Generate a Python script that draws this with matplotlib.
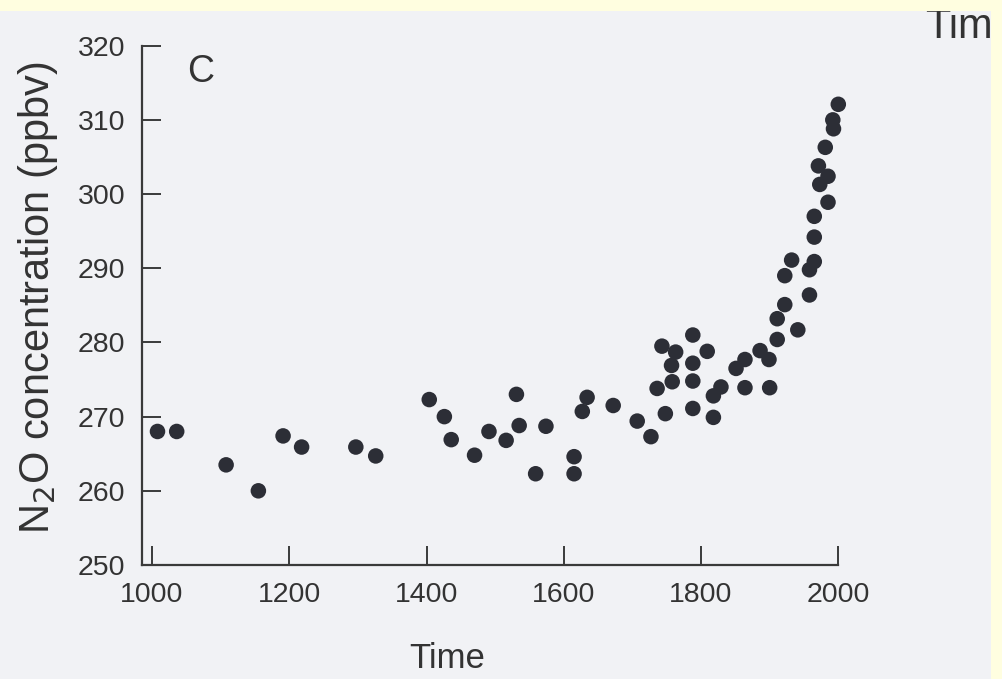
import numpy as np
import matplotlib.pyplot as plt
from matplotlib.patches import Rectangle

plt.rcParams['font.family'] = ['Liberation Sans', 'DejaVu Sans']

# N2O concentration record (ppbv)
year = [1008, 1036, 1108, 1155, 1191, 1218, 1297, 1326, 1404, 1426,
        1436, 1470, 1491, 1516, 1531, 1535, 1559, 1574, 1615, 1615,
        1627, 1634, 1672, 1707, 1727, 1736, 1748, 1743, 1763, 1757,
        1758, 1788, 1788, 1788, 1788, 1809, 1818, 1829, 1818, 1851,
        1864, 1864, 1886, 1899, 1900, 1911, 1911, 1922, 1922, 1932,
        1941, 1958, 1958, 1965, 1965, 1965, 1985, 1973, 1985, 1971,
        1981, 1993, 1992, 2000]
n2o = [268.0, 268.0, 263.5, 260.0, 267.4, 265.9, 265.9, 264.7, 272.3, 270.0,
       266.9, 264.8, 268.0, 266.8, 273.0, 268.8, 262.3, 268.7, 264.6, 262.3,
       270.7, 272.6, 271.5, 269.4, 267.3, 273.8, 270.4, 279.5, 278.7, 276.9,
       274.7, 281.0, 277.2, 274.8, 271.1, 278.8, 272.8, 274.0, 269.9, 276.5,
       277.7, 273.9, 278.9, 277.7, 273.9, 280.4, 283.2, 285.1, 289.0, 291.1,
       281.7, 286.4, 289.8, 290.9, 294.2, 297.0, 298.9, 301.3, 302.4, 303.8,
       306.3, 308.8, 310.0, 312.1]

xticks = [1000, 1200, 1400, 1600, 1800, 2000]
yticks = [250, 260, 270, 280, 290, 300, 310, 320]

ink = '#2c2e36'
W, H = 1003, 679

fig = plt.figure(figsize=(10.03, 6.79), dpi=100, facecolor='#fffee0')
# scanned paper area
fig.patches.append(Rectangle((0, 0), 991 / W, 1 - 11 / H, transform=fig.transFigure,
                             facecolor='#f1f2f5', edgecolor='none', zorder=-5))

ax = fig.add_axes([141.7 / W, 1 - 565 / H, (838.3 - 141.7) / W, (565 - 45.7) / H])
ax.set_zorder(2)
ax.patch.set_visible(False)
ax.scatter(year, n2o, s=125, color=ink, edgecolors='none', zorder=3, clip_on=False)

ax.set_xlim(985, 2000)
ax.set_ylim(250, 320)
ax.set_xticks(xticks)
ax.set_yticks(yticks)
for s in ['top', 'right']:
    ax.spines[s].set_visible(False)
for s in ['left', 'bottom']:
    ax.spines[s].set_color('#3a3a3a')
    ax.spines[s].set_linewidth(1.6)
ax.tick_params(direction='in', length=14, width=1.4, color='#3a3a3a',
               labelsize=20.5, labelcolor='#333333', pad=12)

ax.set_ylabel('N$_2$O concentration (ppbv)', fontsize=30, color='#333333')
ax.yaxis.set_label_coords(-0.118, 0.516)
# panel letter
ax.text(0.085, 0.95, 'C', fontsize=27, color='#333333', ha='center', va='center',
        transform=ax.transAxes)

fig.text(447 / W, 1 - 658 / H, 'Time', fontsize=25, color='#333333',
         ha='center', va='center')
# cut-off heading from the next panel, top right
fig.text(925 / W, 1 - 38 / H, 'Time', fontsize=30, color='#333333',
         ha='left', va='baseline', zorder=5)
fig.patches.append(Rectangle((0, 1 - 11 / H), 1, 11 / H, transform=fig.transFigure,
                             facecolor='#fffee0', edgecolor='none', zorder=10))
fig.patches.append(Rectangle((991 / W, 0), 12 / W, 1, transform=fig.transFigure,
                             facecolor='#fffee0', edgecolor='none', zorder=10))

plt.savefig('out.png', dpi=100, facecolor=fig.get_facecolor())
